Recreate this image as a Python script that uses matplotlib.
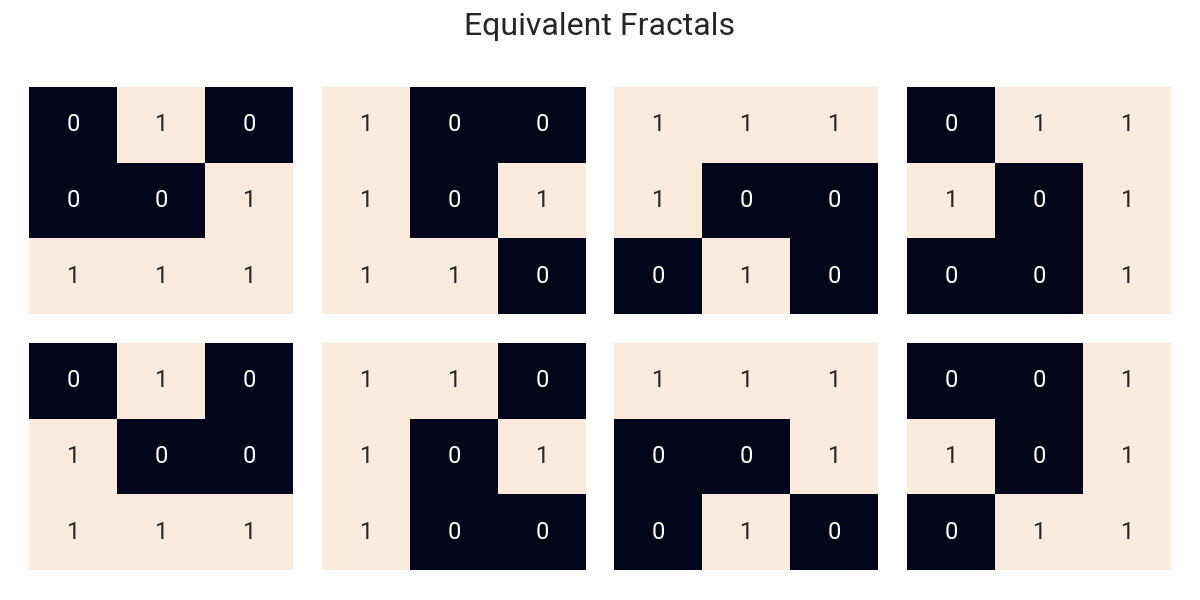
import matplotlib
matplotlib.use("Agg")
import matplotlib.pyplot as plt
import seaborn as sns
import numpy as np

sns.set_theme(style="white")
plt.rcParams['font.family'] = ['Roboto', 'DejaVu Sans']

title = "Equivalent Fractals"
grids = [
    [[0, 1, 0], [0, 0, 1], [1, 1, 1]],
    [[1, 0, 0], [1, 0, 1], [1, 1, 0]],
    [[1, 1, 1], [1, 0, 0], [0, 1, 0]],
    [[0, 1, 1], [1, 0, 1], [0, 0, 1]],
    [[0, 1, 0], [1, 0, 0], [1, 1, 1]],
    [[1, 1, 0], [1, 0, 1], [1, 0, 0]],
    [[1, 1, 1], [0, 0, 1], [0, 1, 0]],
    [[0, 0, 1], [1, 0, 1], [0, 1, 1]],
]

W, H = 1200, 600
fig = plt.figure(figsize=(12, 6), dpi=100)
lefts = [29, 322, 614, 907]
tops = [87, 343]
aw, ah = 264, 227
for i, g in enumerate(grids):
    r, c = divmod(i, 4)
    ax = fig.add_axes([lefts[c] / W, 1 - (tops[r] + ah) / H, aw / W, ah / H])
    sns.heatmap(np.array(g), ax=ax, cmap="rocket", vmin=0, vmax=1, annot=True,
                cbar=False, annot_kws={"fontsize": 17})
    ax.set_xticks([])
    ax.set_yticks([])

fig.text(0.5, 1 - 35 / H, title, ha="center", va="baseline", fontsize=23, color="#262626")
fig.savefig("out.png", dpi=100)
